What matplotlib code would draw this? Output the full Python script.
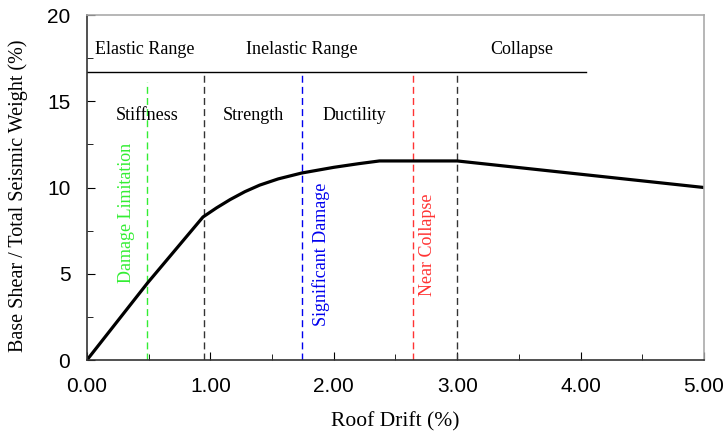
import matplotlib.pyplot as plt
import numpy as np

# pushover curve (roof drift %, base shear / weight %)
drift = [0.0, 0.49, 0.94, 1.05, 1.16, 1.28, 1.40, 1.55, 1.74, 2.00, 2.20, 2.37, 3.00, 5.00]
shear = [0.0, 4.46, 8.29, 8.82, 9.30, 9.76, 10.14, 10.50, 10.84, 11.17, 11.38, 11.54, 11.54, 10.00]

# performance limits
limit_x = [0.49, 1.74, 2.64]
limit_top = [16.1, 16.7, 16.7]
limit_color = ['#33ee33', '#0000ee', '#ff3333']
limit_name = ['Damage Limitation', 'Significant Damage', 'Near Collapse']
limit_text_x = [0.32, 1.90, 2.76]
limit_text_y = [8.5, 6.1, 6.7]

# range boundaries
bound_x = [0.95, 3.00]
band_y = 16.7
band_end = 4.04

range_name = ['Elastic Range', 'Inelastic Range', 'Collapse']
range_x = [0.47, 1.74, 3.52]
zone_name = ['Stiffness', 'Strength', 'Ductility']
zone_x = [0.49, 1.35, 2.17]

serif = 'Liberation Serif'
sans = 'Liberation Sans'

fig = plt.figure(figsize=(7.26, 4.34), dpi=100)
ax = fig.add_axes([0.1198, 0.1705, 0.8499, 0.7949])

for x, top, c in zip(limit_x, limit_top, limit_color):
    ax.plot([x, x], [0, top], color=c, lw=1.0, ls=(0, (5, 3)))
for x in bound_x:
    ax.plot([x, x], [0, band_y], color='#333333', lw=1.0, ls=(0, (5, 3)))
ax.plot([0, band_end], [band_y, band_y], color='black', lw=1.0)

ax.plot(drift, shear, color='black', lw=2.3)

for name, x in zip(range_name, range_x):
    ax.text(x, 18.0, name, ha='center', va='center', family=serif, fontsize=13)
for name, x in zip(zone_name, zone_x):
    ax.text(x, 14.2, name, ha='center', va='center', family=serif, fontsize=13)
for name, x, y, c in zip(limit_name, limit_text_x, limit_text_y, limit_color):
    ax.text(x, y, name, ha='center', va='center', rotation=90, family=serif,
            fontsize=13, color=c)

ax.set_xlim(0, 5)
ax.set_ylim(0, 20)
ax.set_xticks(np.arange(0, 5.01, 1))
ax.set_xticks(np.arange(0.5, 5, 1), minor=True)
ax.set_xticklabels(['%.2f' % v for v in np.arange(0, 5.01, 1)])
ax.set_yticks([0, 5, 10, 15, 20])
ax.set_yticks([2.5, 7.5, 12.5, 17.5], minor=True)
ax.tick_params(which='both', direction='in', top=False, right=False)
ax.tick_params(which='major', length=6, labelsize=15)
ax.tick_params(axis='x', which='major', pad=12)
ax.tick_params(axis='y', which='major', pad=12)
ax.tick_params(which='minor', length=4)
for lab in ax.get_xticklabels() + ax.get_yticklabels():
    lab.set_family(sans)

for s in ['left', 'bottom']:
    ax.spines[s].set_color('#333333')
    ax.spines[s].set_linewidth(1.2)
for s in ['top', 'right']:
    ax.spines[s].set_color('#aaaaaa')
    ax.spines[s].set_linewidth(1.2)

ax.set_xlabel('Roof Drift (%)', family=serif, fontsize=15.5, labelpad=12)
ax.set_ylabel('Base Shear / Total Seismic Weight (%)', family=serif, fontsize=14.5,
              va='center')
ax.yaxis.set_label_coords(-0.112, 0.475)

fig.savefig('out.png', dpi=100)
